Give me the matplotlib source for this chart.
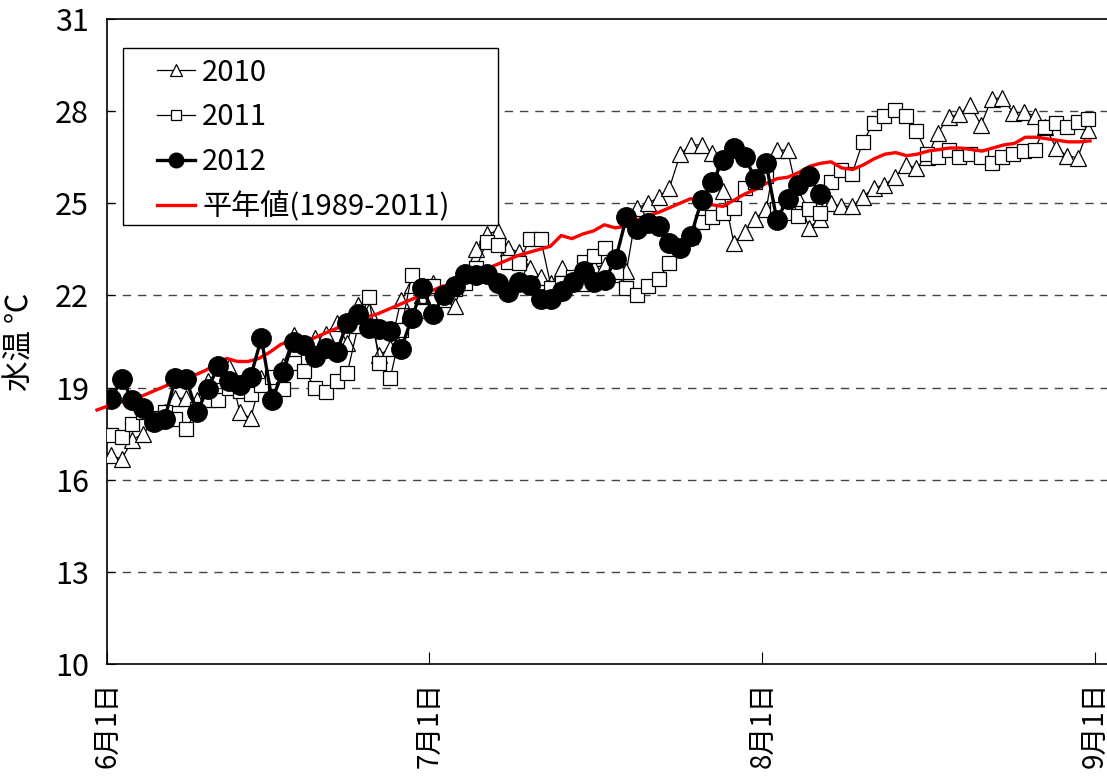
#水温グラフ 6月-8月
import matplotlib
matplotlib.use("Agg")
import matplotlib.pyplot as plt
from matplotlib.patches import Rectangle
import numpy as np

plt.rcParams['font.family'] = ['Noto Sans CJK JP', 'DejaVu Sans']

#データ (6月1日からの日数)
t2010 = [16.8, 16.67, 17.3, 17.5, 17.9, 18.2, 18.65, 18.65, 18.6, 19.2,
         19.4, 19.67, 18.2, 18.0, 19.3, 19.2, 19.7, 20.7, 20.0, 20.6,
         20.75, 21.1, 20.45, 21.7, 21.5, 20.05, 20.3, 21.85, 22.35, 22.0,
         22.4, 21.9, 21.65, 22.7, 23.5, 24.0, 24.1, 23.55, 23.4, 22.9,
         22.6, 22.4, 22.9, 22.55, 22.4, 22.9, 23.0, 22.7, 22.8, 24.85,
         25.0, 25.2, 25.5, 26.6, 26.9, 26.9, 26.65, 25.4, 23.7, 24.07,
         24.5, 24.8, 26.73, 26.73, 25.17, 24.2, 24.5, 25.0, 24.9, 24.9,
         25.2, 25.5, 25.6, 25.85, 26.25, 26.15, 26.5, 27.3, 27.8, 27.9,
         28.2, 27.55, 28.4, 28.43, 27.95, 27.97, 27.85, 27.5, 26.8, 26.55,
         26.48, 27.4]
t2011 = [17.45, 17.4, 17.8, 18.2, 18.0, 18.2, 17.98, 17.65, 18.3, 18.6,
         18.6, 19.0, 18.9, 18.8, 19.1, 19.35, 18.95, 19.8, 19.55, 19.0,
         18.85, 19.2, 19.47, 21.0, 21.95, 19.8, 19.3, 20.87, 22.67, 21.5,
         22.3, 22.0, 22.2, 22.4, 22.9, 23.75, 23.65, 23.1, 23.05, 23.85,
         23.85, 22.25, 22.4, 22.6, 23.1, 23.3, 23.55, 22.75, 22.25, 22.0,
         22.3, 22.55, 23.05, 23.55, 23.9, 24.4, 24.55, 24.7, 24.85, 25.5,
         25.7, 25.9, 24.8, 24.7, 24.6, 24.8, 24.7, 25.7, 26.1, 25.95,
         27.0, 27.6, 27.85, 28.05, 27.85, 27.35, 26.6, 26.5, 26.75, 26.5,
         26.6, 26.5, 26.3, 26.5, 26.6, 26.7, 26.75, 27.5, 27.6, 27.5,
         27.65, 27.75]
t2012 = [18.63, 19.28, 18.6, 18.33, 17.88, 17.98, 19.31, 19.28, 18.2, 18.95,
         19.7, 19.2, 19.1, 19.35, 20.6, 18.6, 19.5, 20.5, 20.4, 20.0,
         20.3, 20.15, 21.1, 21.4, 20.95, 20.9, 20.85, 20.25, 21.25, 22.25,
         21.4, 22.0, 22.3, 22.7, 22.65, 22.7, 22.4, 22.1, 22.45, 22.35,
         21.9, 21.9, 22.15, 22.45, 22.8, 22.45, 22.5, 23.2, 24.55, 24.15,
         24.35, 24.25, 23.7, 23.55, 23.95, 25.1, 25.7, 26.4, 26.8, 26.5,
         25.8, 26.3, 24.45, 25.15, 25.6, 25.9, 25.3]
heinen = [18.27, 18.4, 18.5, 18.6, 18.7, 18.85, 19.0, 19.15, 19.25, 19.4,
          19.55, 19.75, 19.95, 19.85, 19.85, 19.95, 20.15, 20.4, 20.55, 20.55,
          20.6, 20.75, 20.9, 21.05, 21.2, 21.3, 21.4, 21.55, 21.7, 21.85,
          22.0, 22.15, 22.3, 22.35, 22.5, 22.65, 22.85, 23.0, 23.15, 23.3,
          23.4, 23.5, 23.6, 23.95, 23.85, 24.0, 24.1, 24.3, 24.2, 24.25,
          24.45, 24.6, 24.7, 24.85, 25.0, 25.15, 25.05, 24.95, 24.9, 25.1,
          25.3, 25.45, 25.65, 25.8, 25.85, 26.0, 26.2, 26.3, 26.35, 26.15,
          26.1, 26.25, 26.45, 26.6, 26.65, 26.55, 26.6, 26.7, 26.75, 26.8,
          26.8, 26.75, 26.7, 26.8, 26.9, 26.95, 27.15, 27.15, 27.1, 27.05,
          27.0, 27.0, 27.03]

tick_days = [0, 30, 61, 92]
tick_labels = ["6月1日", "7月1日", "8月1日", "9月1日"]

#日付の位置
d2010 = np.arange(len(t2010)) + 0.37
d2011 = np.arange(len(t2011)) + 0.37
d2012 = np.arange(len(t2012)) + 0.37
dheinen = np.arange(len(heinen)) * 1.005 - 0.93

fig = plt.figure(figsize=(11.07, 7.80), dpi=100)
ax = fig.add_axes([107/1107, 116/780, 1000/1107, 645/780])

ax.plot(d2010, t2010, color='black', lw=0.9, marker='^', markersize=11,
        markerfacecolor='white', markeredgecolor='black', markeredgewidth=0.9,
        label='2010', zorder=3)
ax.plot(d2011, t2011, color='black', lw=0.9, marker='s', markersize=9.5,
        markerfacecolor='white', markeredgecolor='black', markeredgewidth=0.9,
        label='2011', zorder=4)
ax.plot(d2012, t2012, color='black', lw=2.4, marker='o', markersize=14,
        markerfacecolor='black', label='2012', zorder=5)
ax.plot(dheinen, heinen, color='red', lw=2.4, label='平年値(1989-2011)',
        zorder=4.5, clip_on=False)

ax.set_xlim(0, 1000/10.74)
ax.set_ylim(10, 31)
ax.set_yticks(np.arange(10, 32, 3))
ax.set_xticks(tick_days)
ax.set_xticklabels(tick_labels, rotation=90, fontsize=20)
for v in range(13, 31, 3):
    ax.axhline(v, color='#444444', lw=1, linestyle=(0, (6, 5)), zorder=1)

ax.tick_params(axis='y', direction='in', length=6, labelsize=22, pad=13)
ax.tick_params(axis='x', direction='in', length=9, pad=13)
ax.spines['right'].set_visible(False)
for s in ['left', 'bottom', 'top']:
    ax.spines[s].set_linewidth(1.2)

ax.set_ylabel("水温 ℃", fontsize=22, labelpad=14)

#凡例
ax.add_patch(Rectangle((0.016, 0.681), 0.375, 0.274, transform=ax.transAxes,
                       facecolor='white', edgecolor='black', lw=1.0, zorder=9))
leg = ax.legend(loc='upper left', bbox_to_anchor=(0.05, 0.94), fontsize=21,
                frameon=False, handlelength=1.3, borderpad=0, labelspacing=0.5,
                handletextpad=0.25, borderaxespad=0)
leg.set_zorder(10)
for h in leg.legend_handles[:3]:
    h.set_markersize(h.get_markersize() * 0.75)

plt.savefig("out.png", dpi=100)
